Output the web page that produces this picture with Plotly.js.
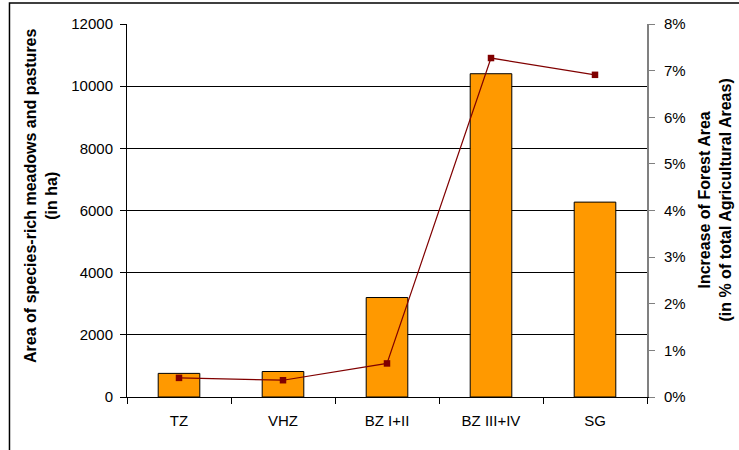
<!DOCTYPE html>
<html>
<head>
<meta charset="utf-8">
<script src="https://cdn.plot.ly/plotly-3.0.1.min.js"></script>
<style>
html,body{margin:0;padding:0;background:#fff;}
#chart{width:739px;height:450px;}
</style>
</head>
<body>
<div id="chart"></div>
<script>
var categories = ["TZ", "VHZ", "BZ I+II", "BZ III+IV", "SG"];
var meadowArea = [760, 820, 3200, 10400, 6270];
var forestIncrease = [0.0041, 0.0036, 0.0072, 0.0727, 0.0691];
var leftTicks = [0, 2000, 4000, 6000, 8000, 10000, 12000];
var rightTicks = [0, 0.01, 0.02, 0.03, 0.04, 0.05, 0.06, 0.07, 0.08];
var leftTitle = "<b>Area of species-rich meadows and pastures<br>(in ha)</b>";
var rightTitle = "<b>Increase of Forest Area<br>(in % of total Agricultural Areas)</b>";

var font = "Liberation Sans, Arial, sans-serif";

var bars = {
  type: "bar",
  x: categories,
  y: meadowArea,
  marker: {color: "#FF9900", line: {color: "#000000", width: 1}},
  width: 0.4,
  yaxis: "y",
  hoverinfo: "none"
};
var line = {
  type: "scatter",
  mode: "lines+markers",
  x: categories,
  y: forestIncrease,
  yaxis: "y2",
  line: {color: "#800000", width: 1.2},
  marker: {color: "#800000", symbol: "square", size: 6.5},
  hoverinfo: "none"
};

var layout = {
  width: 739,
  height: 450,
  margin: {l: 127, r: 92, t: 24, b: 53},
  paper_bgcolor: "#ffffff",
  plot_bgcolor: "#ffffff",
  showlegend: false,
  font: {family: font, size: 15, color: "#000"},
  xaxis: {
    type: "category",
    tickson: "boundaries",
    ticks: "outside",
    ticklen: 6,
    tickcolor: "#000",
    ticklabelstandoff: 10,
    showline: true,
    linecolor: "#000",
    linewidth: 1,
    showgrid: false,
    tickfont: {family: font, size: 15, color: "#000"},
    fixedrange: true
  },
  yaxis: {
    range: [0, 12000],
    tickvals: leftTicks,
    ticktext: leftTicks.map(String),
    ticks: "outside",
    ticklen: 6,
    tickcolor: "#000",
    ticklabelstandoff: 4,
    showline: true,
    linecolor: "#000",
    linewidth: 1,
    showgrid: true,
    gridcolor: "#000",
    gridwidth: 1,
    zeroline: false,
    tickfont: {family: font, size: 15, color: "#000"},
    fixedrange: true
  },
  yaxis2: {
    overlaying: "y",
    side: "right",
    range: [0, 0.08],
    tickvals: rightTicks,
    tickformat: ".0%",
    ticks: "outside",
    ticklen: 6,
    tickcolor: "#808080",
    ticklabelstandoff: 6,
    showline: true,
    linecolor: "#808080",
    linewidth: 2,
    showgrid: false,
    zeroline: false,
    tickfont: {family: font, size: 15, color: "#000"},
    fixedrange: true
  },
  annotations: [
    {text: leftTitle, xref: "paper", yref: "paper", x: -0.1654, y: 0.539,
     xanchor: "center", yanchor: "middle", textangle: -90, showarrow: false,
     font: {family: font, size: 16, color: "#000"}},
    {text: rightTitle, xref: "paper", yref: "paper", x: 1.1317, y: 0.528,
     xanchor: "center", yanchor: "middle", textangle: -90, showarrow: false,
     font: {family: font, size: 16, color: "#000"}}
  ],
  shapes: [{
    type: "rect", xref: "paper", yref: "paper",
    x0: -0.226, x1: 2, y0: -1, y1: 1.0563,
    line: {color: "#000", width: 1.5}, fillcolor: "rgba(0,0,0,0)", layer: "below"
  }]
};

Plotly.newPlot("chart", [bars, line], layout, {displayModeBar: false, staticPlot: true});
</script>
</body>
</html>
